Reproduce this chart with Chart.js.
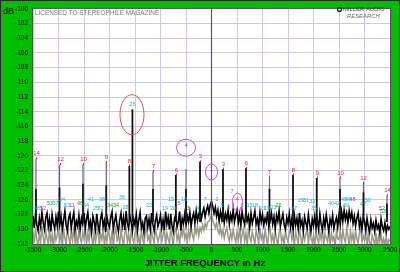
<!DOCTYPE html>
<html>
<head>
<meta charset="utf-8">
<script src="https://cdn.jsdelivr.net/npm/chart.js@4.4.1/dist/chart.umd.min.js"></script>
<style>
  html, body { margin: 0; padding: 0; background: #00bf00; }
  #wrap { width: 400px; height: 272px; }
</style>
</head>
<body>
<div id="wrap"><canvas id="jitterChart" width="400" height="272"></canvas></div>
<script>
/* ===== DATA ===== */
const X_TICKS = [-3500, -3000, -2500, -2000, -1500, -1000, -500, 0, 500, 1000, 1500, 2000, 2500, 3000, 3500];
const Y_TICKS = [-100, -102, -104, -106, -108, -110, -112, -114, -116, -118, -120, -122, -124, -126, -128, -130, -132];

// noise floor traces, one value every 25 Hz from -3500 Hz
const NOISE_START_HZ = -3500;
const NOISE_STEP_HZ = 25;

const blackNoiseDb = [
  -128.2,-129.8,-127.9,-129.4,-130.2,-128.5,-129.6,-127.7,-129.1,-130.0,-128.4,-127.8,-129.7,-128.6,-130.3,-128.0,-129.2,-129.9,-128.3,-129.5,
  -127.6,-129.4,-128.2,-130.0,-128.7,-127.5,-129.5,-130.2,-128.4,-127.9,-129.8,-128.6,-127.7,-130.1,-128.9,-129.6,-128.1,-130.0,-128.5,-129.3,
  -127.8,-129.9,-128.6,-127.7,-129.7,-128.9,-130.3,-128.2,-129.0,-130.1,-127.9,-129.4,-130.2,-128.5,-127.8,-129.6,-128.8,-130.4,-128.3,-129.2,
  -129.7,-128.3,-127.6,-130.0,-128.9,-128.1,-129.5,-130.3,-128.7,-127.8,-129.6,-128.4,-130.1,-127.5,-129.2,-129.9,-128.2,-129.0,-130.2,-128.6,
  -129.4,-128.0,-130.1,-128.7,-127.7,-129.8,-129.1,-130.4,-128.5,-128.2,-129.7,-128.6,-130.0,-127.8,-129.3,-130.2,-128.8,-128.1,-129.6,-129.0,
  -128.1,-129.8,-128.7,-130.1,-127.6,-129.3,-128.4,-130.0,-127.9,-129.5,-130.3,-128.6,-128.0,-129.7,-129.0,-127.6,-130.2,-128.5,-129.2,-127.9,
  -129.4,-128.2,-129.0,-127.7,-129.6,-128.4,-127.8,-129.2,-127.5,-128.8,-128.0,-127.3,-128.6,-127.7,-127.1,-128.3,-127.4,-126.8,-127.8,-126.7,
  -126.2,-126.9,-127.8,-127.0,-128.2,-127.4,-128.9,-127.6,-128.6,-127.2,-129.1,-127.9,-128.7,-127.4,-129.3,-128.0,-128.8,-127.3,-129.0,-128.1,
  -127.4,-129.1,-128.0,-129.5,-127.6,-128.7,-129.4,-127.5,-128.9,-128.2,-129.7,-127.8,-129.2,-128.4,-127.5,-129.3,-128.6,-129.8,-127.7,-129.0,
  -128.0,-129.4,-128.5,-129.1,-127.6,-129.7,-128.8,-127.8,-129.3,-128.3,-129.9,-128.1,-128.9,-127.5,-129.6,-128.7,-127.9,-129.4,-130.0,-128.4,
  -129.2,-127.9,-129.7,-128.6,-130.1,-128.1,-129.4,-128.5,-129.9,-127.8,-129.5,-128.8,-130.2,-128.3,-129.1,-129.8,-128.0,-129.3,-130.3,-128.6,
  -129.5,-128.2,-129.8,-128.7,-130.0,-127.9,-129.3,-130.1,-128.5,-129.6,-128.0,-129.2,-130.3,-128.6,-129.4,-128.1,-129.9,-129.0,-128.4,-129.7,
  -128.0,-129.3,-127.6,-128.9,-127.4,-128.7,-127.8,-129.1,-127.5,-128.6,-127.7,-129.2,-128.2,-129.5,-128.5,-127.8,-129.6,-128.7,-130.0,-128.3,
  -128.9,-130.1,-128.5,-129.6,-130.4,-128.7,-129.8,-129.2,-130.3,-128.8,-129.9,-129.4,-130.5,-128.6,-129.7,-130.2,-129.1,-130.4,-129.5,-130.0,
  -129.6
];

const grayNoiseDb = [
  -130.4,-131.9,-129.8,-131.4,-132.4,-130.6,-131.7,-129.6,-131.1,-132.2,-130.2,-131.3,-132.0,-129.9,-131.8,-130.7,-132.5,-130.3,-131.5,-130.8,
  -129.7,-131.6,-130.5,-132.3,-130.0,-131.2,-132.0,-129.8,-131.0,-132.1,-130.3,-131.5,-129.6,-131.9,-130.7,-132.4,-130.1,-131.2,-131.8,-130.4,
  -131.3,-129.9,-132.0,-130.5,-131.6,-129.7,-131.1,-132.3,-130.3,-131.8,-130.8,-129.8,-132.1,-130.6,-131.4,-130.0,-132.2,-130.7,-131.7,-129.9,
  -131.0,-131.9,-130.2,-132.3,-130.6,-129.8,-131.5,-130.9,-132.0,-130.1,-131.3,-132.2,-130.4,-129.9,-131.7,-130.7,-132.1,-130.3,-131.2,-131.8,
  -130.6,-129.9,-131.8,-131.0,-132.3,-130.2,-131.3,-132.0,-130.5,-129.7,-131.4,-130.9,-132.2,-130.3,-131.1,-131.9,-129.9,-130.8,-131.7,-131.0,
  -130.2,-131.6,-130.7,-129.8,-132.1,-130.5,-131.3,-131.9,-130.0,-131.0,-132.3,-130.3,-129.9,-131.5,-130.6,-132.0,-130.2,-130.9,-129.7,-131.3,
  -130.6,-131.7,-130.1,-131.2,-129.8,-130.8,-131.4,-129.9,-130.6,-129.6,-130.9,-129.8,-130.3,-129.4,-130.1,-129.2,-129.8,-129.0,-128.9,-128.5,
  -128.1,-128.8,-129.3,-129.8,-129.1,-130.2,-130.6,-129.7,-130.9,-130.1,-131.2,-130.4,-129.8,-131.0,-131.6,-130.3,-131.3,-130.0,-131.1,-131.7,
  -130.4,-131.4,-129.8,-131.8,-130.7,-130.0,-131.6,-130.5,-132.1,-129.9,-131.1,-131.7,-130.3,-131.2,-132.0,-130.1,-130.9,-131.9,-129.8,-131.3,
  -130.7,-131.8,-130.0,-131.2,-132.2,-130.4,-129.9,-131.6,-130.8,-132.0,-130.3,-131.3,-132.3,-130.5,-130.0,-131.7,-131.0,-132.1,-130.2,-131.2,
  -131.7,-130.5,-129.9,-131.4,-130.8,-132.2,-130.3,-131.2,-131.9,-130.0,-131.0,-132.4,-130.4,-131.5,-130.7,-129.8,-132.0,-130.3,-131.2,-131.8,
  -130.8,-132.3,-130.1,-131.3,-131.9,-130.4,-131.4,-129.9,-132.1,-130.6,-131.2,-131.7,-130.0,-132.2,-130.5,-131.5,-131.0,-132.4,-130.2,-131.3,
  -131.4,-130.3,-132.0,-130.0,-131.2,-131.8,-129.9,-130.9,-132.3,-130.2,-131.5,-130.6,-132.1,-130.1,-131.3,-131.9,-130.5,-129.8,-131.7,-130.9,
  -131.5,-130.6,-132.3,-130.4,-131.8,-132.5,-130.8,-131.4,-132.1,-130.5,-132.4,-131.0,-131.7,-130.6,-132.2,-131.3,-132.0,-130.9,-132.5,-131.4,
  -131.6
];

// jitter sidebands
const spikeHz     = [-3441, -2980, -2520, -2063, -1610, -1550, -1147, -700, -500, -225, 225, 676, 1137, 1598, 2063, 2520, 2980, 3441];
const spikeTopDb  = [-120.4, -121.2, -121.2, -120.9, -121.4, -113.7, -122.1, -122.6, -121.8, -120.8, -121.8, -121.7, -122.9, -122.6, -123.0, -123.0, -123.7, -125.4];
const spikeDarkDb = [-124.5, -124.3, -123.8, -124.0, -121.4, -113.7, -124.5, -122.6, -124.5, -120.8, -121.8, -121.7, -124.5, -122.6, -123.0, -124.5, -125.0, -126.5];
const spikeLabel  = ["14", "12", "10", "9", "8", "26", "7", "6", "", "3", "3", "6", "7", "8", "9", "10", "12", "14"];
const spikeKind   = ["r", "r", "r", "r", "r", "c", "r", "r", "m", "r", "r", "r", "r", "r", "r", "r", "r", "r"];
const SPIKE_BASE_DB = -129.0;
const CARRIER_HZ = 0;

// small numbered markers near the noise floor
const markHz = [-3422, -3304, -3167, -3059, -2932, -2834, -2735, -2578, -2461, -2363, -2265, -2177, -2147, -1990, -1873, -1755, -1686,
  -1226, -912, -794, -755, -637, -539, -461, -265, -127,
  -500, 0, 505,
  108, 206, 402, 343, 598, 578, 745, 853, 1010, 1088, 1216, 1314, 1618, 1755, 1853, 1971, 2010, 2343, 2461, 2598, 2677, 2765, 2637, 2971, 3069, 3344, 3363];
const markDb = [-127.1, -127.1, -126.5, -126.5, -126.0, -126.8, -126.8, -126.5, -126.8, -126.0, -127.1, -127.1, -126.0, -126.8, -126.8, -125.7, -127.0,
  -126.7, -127.1, -126.0, -127.1, -126.5, -126.0, -127.1, -127.1, -125.9,
  -118.6, -121.8, -125.9,
  -125.9, -126.7, -124.8, -127.0, -126.7, -127.3, -126.7, -126.7, -127.2, -127.2, -127.0, -126.7, -127.1, -126.1, -126.1, -126.2, -127.2, -126.5, -126.5, -126.0, -126.0, -126.0, -126.8, -126.6, -126.1, -127.1, -127.6];
const markText = ["48", "52", "53", "37", "24", "53", "11", "46", "44", "41", "25", "32", "38", "34", "34", "36", "28",
  "22", "19", "15", "20", "5", "18", "3", "4", "7",
  "4", "1", "4",
  "2", "5", "7", "5", "6", "5", "15", "18", "21", "19", "23", "22", "27", "29", "31", "33", "35", "40", "42", "45", "46", "48", "49", "47", "50", "52", "53"];
const markKind = ["c", "m", "g", "c", "c", "c", "m", "g", "c", "c", "c", "c", "c", "g", "g", "c", "c",
  "c", "c", "c", "c", "m", "c", "g", "c", "c",
  "m", "m", "m",
  "c", "c", "c", "c", "c", "m", "c", "c", "c", "c", "c", "g", "c", "c", "c", "c", "c", "c", "c", "c", "c", "m", "c", "g", "c", "m", "g"];

// ellipses drawn round some markers
const ringHz = [-1559, -500, 0, 510];
const ringDb = [-114.4, -118.9, -122.2, -126.3];
const ringKind = ["r", "m", "m", "m"];

/* ===== STYLE ===== */
const GREEN = "#00bf00";
const KIND_COLORS = { r: "#ff1a1a", c: "#10b4f0", m: "#d020d0", g: "#10b010" };
const RING_SIZE = [[12, 20], [9.5, 8.5], [6, 8], [5, 9]];
const NARROW = "'Liberation Sans Narrow', 'Arial Narrow', 'Liberation Sans', Arial, sans-serif";
const SANS = "'Liberation Sans', Arial, sans-serif";

/* ===== BUILD DATASETS ===== */
function noisePoints(values) {
  return values.map((v, i) => ({ x: NOISE_START_HZ + i * NOISE_STEP_HZ, y: v }));
}

function spikePoints(tops) {
  const pts = [];
  spikeHz.forEach((hz, i) => {
    pts.push({ x: hz, y: SPIKE_BASE_DB });
    pts.push({ x: hz, y: tops[i] });
    pts.push({ x: hz, y: null });
  });
  return pts;
}

/* ===== DECORATION PLUGIN ===== */
const jitterDecor = {
  id: "jitterDecor",
  beforeDraw(chart) {
    const { ctx, chartArea: a } = chart;
    ctx.save();
    ctx.fillStyle = GREEN;
    ctx.fillRect(0, 0, chart.width, chart.height);
    ctx.fillStyle = "#ffffff";
    ctx.fillRect(a.left, a.top, a.right - a.left, a.bottom - a.top);
    ctx.restore();
  },
  afterDatasetsDraw(chart) {
    const { ctx, chartArea: a } = chart;
    const xs = chart.scales.x, ys = chart.scales.y;
    ctx.save();
    ctx.beginPath();
    ctx.rect(a.left, a.top, a.right - a.left, a.bottom - a.top);
    ctx.clip();

    // sideband labels above each spike
    ctx.font = "6px " + SANS;
    ctx.textAlign = "center";
    ctx.textBaseline = "bottom";
    spikeHz.forEach((hz, i) => {
      if (!spikeLabel[i]) return;
      const px = Math.round(xs.getPixelForValue(hz)) + 0.5;
      const py = ys.getPixelForValue(spikeTopDb[i]);
      ctx.fillStyle = KIND_COLORS[spikeKind[i]];
      ctx.fillText(spikeLabel[i], px, py - 2);
      if (spikeKind[i] === "r") ctx.fillRect(px - 0.5, py - 1.5, 1, 2);
    });

    // floor markers
    ctx.font = "5.5px " + NARROW;
    ctx.textBaseline = "middle";
    markHz.forEach((hz, i) => {
      ctx.fillStyle = KIND_COLORS[markKind[i]];
      ctx.fillText(markText[i], xs.getPixelForValue(hz), ys.getPixelForValue(markDb[i]));
    });

    // rings
    ctx.lineWidth = 1;
    ringHz.forEach((hz, i) => {
      ctx.strokeStyle = ringKind[i] === "r" ? "#f04848" : "#e040e0";
      ctx.beginPath();
      ctx.ellipse(xs.getPixelForValue(hz), ys.getPixelForValue(ringDb[i]), RING_SIZE[i][0], RING_SIZE[i][1], 0, 0, Math.PI * 2);
      ctx.stroke();
    });
    ctx.restore();
  },
  afterDraw(chart) {
    const { ctx, chartArea: a } = chart;
    ctx.save();
    // plot frame
    ctx.strokeStyle = "#505050";
    ctx.lineWidth = 1;
    ctx.strokeRect(a.left - 0.5, a.top - 0.5, a.right - a.left + 1, a.bottom - a.top + 1);
    // outer frame
    ctx.strokeStyle = "#2a2a2a";
    ctx.strokeRect(0.5, 0.5, chart.width - 1, chart.height - 1);

    ctx.fillStyle = "#000";
    ctx.textBaseline = "middle";
    ctx.textAlign = "left";
    ctx.font = "9px " + SANS;
    ctx.fillText("dB", 3, 12);

    ctx.textAlign = "center";
    ctx.font = "bold 9.5px " + NARROW;
    ctx.fillText("JITTER FREQUENCY in Hz", 205, 263);

    ctx.textAlign = "left";
    ctx.fillStyle = "#7a7a7a";
    ctx.font = "6.4px " + SANS;
    ctx.fillText("LICENSED TO STEREOPHILE MAGAZINE", 35, 13);

    // maker mark
    ctx.fillStyle = "#404040";
    ctx.font = "5.9px " + SANS;
    ctx.fillText("MILLER AUDIO", 343, 9.5);
    ctx.fillStyle = "#707070";
    ctx.font = "italic 5.9px " + SANS;
    ctx.fillText("RESEARCH", 347, 16);
    ctx.strokeStyle = "#202020";
    ctx.lineWidth = 1.3;
    ctx.beginPath();
    ctx.arc(339.5, 9.5, 2, 0, Math.PI * 2);
    ctx.stroke();
    ctx.restore();
  }
};

/* ===== CHART ===== */
Chart.defaults.font.family = NARROW;
Chart.defaults.color = "#000";

new Chart(document.getElementById("jitterChart"), {
  type: "line",
  data: {
    datasets: [
      {
        data: [{ x: CARRIER_HZ, y: -140 }, { x: CARRIER_HZ, y: -90 }],
        borderColor: "#5a5a5a",
        borderWidth: 1.2,
        order: 0
      },
      {
        data: spikePoints(spikeDarkDb),
        borderColor: "#111111",
        borderWidth: 1.7,
        spanGaps: false,
        order: 1
      },
      {
        data: spikePoints(spikeTopDb),
        borderColor: "#666666",
        borderWidth: 1.2,
        spanGaps: false,
        order: 2
      },
      {
        data: noisePoints(blackNoiseDb),
        borderColor: "#000000",
        borderWidth: 1.6,
        order: 3
      },
      {
        data: noisePoints(grayNoiseDb),
        borderColor: "#9a9a86",
        borderWidth: 1.5,
        order: 4
      }
    ]
  },
  options: {
    responsive: false,
    animation: false,
    events: [],
    layout: { padding: { left: 0, top: 6, right: 10, bottom: 0 } },
    elements: {
      point: { radius: 0 },
      line: { tension: 0, borderJoinStyle: "miter" }
    },
    plugins: {
      legend: { display: false },
      tooltip: { enabled: false }
    },
    scales: {
      x: {
        type: "linear",
        min: -3500,
        max: 3500,
        afterBuildTicks: s => { s.ticks = X_TICKS.map(v => ({ value: v })); },
        afterFit: s => { s.height = 28; },
        ticks: { callback: v => String(v), font: { size: 6.5 }, padding: 2, maxRotation: 0, autoSkip: false },
        grid: { color: "#c9c9f2", lineWidth: 1, drawTicks: false },
        border: { display: false }
      },
      y: {
        min: -132,
        max: -100,
        afterBuildTicks: s => { s.ticks = Y_TICKS.map(v => ({ value: v })); },
        afterFit: s => { s.width = 33; },
        ticks: { callback: v => String(v), font: { size: 6.5 }, padding: 5, autoSkip: false },
        grid: { color: "#c9c9f2", lineWidth: 1, drawTicks: false },
        border: { display: false }
      }
    }
  },
  plugins: [jitterDecor]
});
</script>
</body>
</html>
